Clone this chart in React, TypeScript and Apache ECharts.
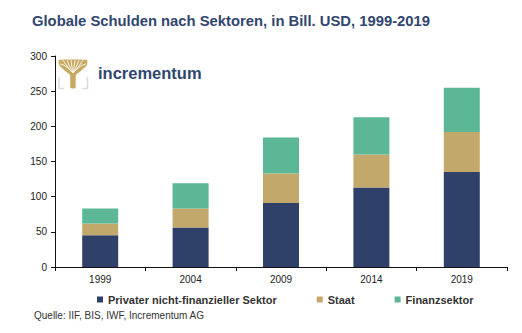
import React, { useEffect, useRef } from "react";
import * as echarts from "echarts";

const years = ["1999", "2004", "2009", "2014", "2019"];
const privat = [45, 56, 91, 113, 135];
const staat = [17, 27, 42, 47, 57];
const finanz = [21, 36, 51, 53, 63];
const seriesNames = ["Privater nicht-finanzieller Sektor", "Staat", "Finanzsektor"];

const FONT = "'Liberation Sans', Arial, sans-serif";
const NAVY = "#2F4169";
const GOLD = "#C3A86B";
const GREEN = "#5BB795";

export default function App() {
  const ref = useRef<HTMLDivElement>(null);
  useEffect(() => {
    if (!ref.current) return;
    const chart = echarts.init(ref.current, undefined, { renderer: "svg" });
    const treeGold = "#C9A962";
    const bx = 59, by = 60;
    const slitTops = [[1, 4], [4, 0], [8, 0], [12, 0], [16, 0], [20, 0], [24, 0], [27, 4]];
    const slits = slitTops.map(([tx, ty]) => ({
      type: "polyline",
      shape: {
        points: [
          [bx + 14, by + 13],
          [bx + 14 + (tx - 14) * 0.6, by + 6],
          [bx + tx, by + ty],
        ],
        smooth: 0.4,
      },
      style: { stroke: "#FFFFFF", lineWidth: 0.9, fill: null },
      silent: true,
    }));
    chart.setOption({
      animation: false,
      textStyle: { fontFamily: FONT },
      title: {
        text: "Globale Schulden nach Sektoren, in Bill. USD, 1999-2019",
        left: 27,
        top: 8,
        textStyle: { fontSize: 14.8, fontWeight: "bold", color: "#30466F", fontFamily: FONT },
      },
      grid: { left: 55, right: 15, top: 56, bottom: 66, containLabel: false },
      legend: {
        left: 92,
        top: 289,
        icon: "rect",
        itemWidth: 6,
        itemHeight: 6,
        itemGap: 40,
        textStyle: { fontSize: 11, fontWeight: "bold", color: "#333", fontFamily: FONT },
        data: seriesNames,
      },
      xAxis: {
        type: "category",
        data: years,
        axisLine: { lineStyle: { color: "#111", width: 1 } },
        axisTick: { show: true, length: 4, lineStyle: { color: "#111" } },
        axisLabel: { fontSize: 10, color: "#222", margin: 7, fontFamily: FONT },
      },
      yAxis: {
        type: "value",
        min: 0,
        max: 300,
        interval: 50,
        axisLine: { show: true, lineStyle: { color: "#111", width: 1 } },
        axisTick: { show: true, length: 4, lineStyle: { color: "#111" } },
        splitLine: { show: false },
        axisLabel: { fontSize: 10, color: "#222", margin: 8, fontFamily: FONT },
      },
      series: [
        { name: seriesNames[0], type: "bar", stack: "s", data: privat, barWidth: 36, itemStyle: { color: NAVY } },
        { name: seriesNames[1], type: "bar", stack: "s", data: staat, barWidth: 36, itemStyle: { color: GOLD } },
        { name: seriesNames[2], type: "bar", stack: "s", data: finanz, barWidth: 36, itemStyle: { color: GREEN } },
      ],
      graphic: [
        {
          type: "polygon",
          shape: {
            points: [
              [bx, by], [bx + 28, by], [bx + 28, by + 5], [bx + 23, by + 10], [bx + 17, by + 15],
              [bx + 16.5, by + 28], [bx + 11.5, by + 28], [bx + 11, by + 15], [bx + 5, by + 10], [bx, by + 5],
            ],
            smooth: 0.15,
          },
          style: { fill: treeGold },
          silent: true,
        },
        ...slits,
        {
          type: "polyline",
          shape: { points: [[bx, by + 17], [bx, by + 28.5], [bx + 5, by + 28.5]] },
          style: { stroke: "#DADADA", lineWidth: 1.5, fill: null },
          silent: true,
        },
        {
          type: "polyline",
          shape: { points: [[bx + 28.5, by + 17], [bx + 28.5, by + 28.5], [bx + 23.5, by + 28.5]] },
          style: { stroke: "#DADADA", lineWidth: 1.5, fill: null },
          silent: true,
        },
        {
          type: "text",
          left: 98,
          top: 64,
          style: {
            text: "incrementum",
            fontSize: 16.5,
            fontFamily: FONT,
            fill: "#30466F",
            fontWeight: "bold",
          },
          silent: true,
        },
        {
          type: "text",
          left: 34,
          top: 310,
          style: {
            text: "Quelle: IIF, BIS, IWF, Incrementum AG",
            fontSize: 10,
            fontFamily: FONT,
            fill: "#333",
          },
          silent: true,
        },
      ],
    });
    return () => chart.dispose();
  }, []);
  return <div ref={ref} style={{ width: 522, height: 333, position: "absolute", left: 0, top: 0 }} />;
}
